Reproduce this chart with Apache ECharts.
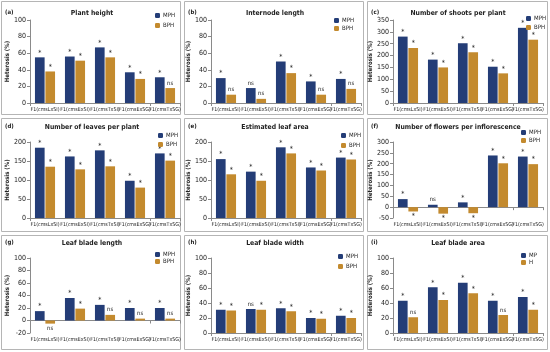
<!DOCTYPE html>
<html><head><meta charset="utf-8">
<script src="https://cdn.jsdelivr.net/npm/echarts@6/dist/echarts.min.js"></script>
<style>html,body{margin:0;padding:0;background:#fff}#c{width:550px;height:352px}</style>
</head><body><div id="c"></div>
<script>
const categories = ['F1(cmsLxSI)','F1(cmsExSI)','F1(cmsTxSI)','F1(cmsExSG)','F1(cmsTxSG)'];
const panelLetters = ['(a)','(b)','(c)','(d)','(e)','(f)','(g)','(h)','(i)'];
const panelTitles = ['Plant height','Internode length','Number of shoots per plant','Number of leaves per plant','Estimated leaf area','Number of flowers per inflorescence','Leaf blade length','Leaf blade width','Leaf blade area'];
const legendNames = [['MPH','BPH'],['MPH','BPH'],['MPH','BPH'],['MPH','BPH'],['MPH','BPH'],['MPH','BPH'],['MPH','BPH'],['MPH','BPH'],['MP','H']];
const yAxisName = 'Heterosis (%)';

const mphA = [55, 56, 67, 37, 31];   const bphA = [38, 51, 55, 29, 18];
const sigMphA = ['*','*','*','*','*']; const sigBphA = ['*','*','*','*','ns'];
const mphB = [30, 18, 50, 26, 29];   const bphB = [10, 5, 36, 10, 17];
const sigMphB = ['*','ns','*','*','*']; const sigBphB = ['ns','ns','*','ns','ns'];
const mphC = [280, 183, 252, 153, 317]; const bphC = [232, 150, 214, 125, 267];
const sigMphC = ['*','*','*','*','*']; const sigBphC = ['*','*','*','*','*'];
const mphD = [185, 162, 178, 98, 170]; const bphD = [135, 128, 136, 80, 151];
const sigMphD = ['*','*','*','*','*']; const sigBphD = ['*','*','*','*','*'];
const mphE = [155, 122, 186, 133, 159]; const bphE = [115, 98, 170, 125, 154];
const sigMphE = ['*','*','*','*','*']; const sigBphE = ['*','*','*','*','*'];
const mphF = [37, 11, 22, 238, 233]; const bphF = [-20, -30, -28, 202, 198];
const sigMphF = ['*','ns','*','*','*']; const sigBphF = ['*','*','*','*','*'];
const mphG = [15, 36, 25, 20, 20]; const bphG = [-5, 19, 9, 3, 3];
const sigMphG = ['*','*','*','*','*']; const sigBphG = ['ns','*','ns','ns','ns'];
const mphH = [31, 32, 33, 20, 23]; const bphH = [30, 31, 29, 19, 20];
const sigMphH = ['*','ns','*','*','*']; const sigBphH = ['*','*','*','*','*'];
const mphI = [43, 61, 67, 43, 48]; const bphI = [21, 44, 53, 24, 31];
const sigMphI = ['*','*','*','*','*']; const sigBphI = ['ns','*','*','ns','*'];

const yMin = [0, 0, 0, 0, 0, -50, -20, 0, 0];
const yMax = [100, 100, 350, 200, 200, 300, 100, 100, 100];
const yStep = [20, 20, 50, 50, 50, 50, 20, 20, 20];

const mphAll = [mphA, mphB, mphC, mphD, mphE, mphF, mphG, mphH, mphI];
const bphAll = [bphA, bphB, bphC, bphD, bphE, bphF, bphG, bphH, bphI];
const sigMphAll = [sigMphA, sigMphB, sigMphC, sigMphD, sigMphE, sigMphF, sigMphG, sigMphH, sigMphI];
const sigBphAll = [sigBphA, sigBphB, sigBphC, sigBphD, sigBphE, sigBphF, sigBphG, sigBphH, sigBphI];

// layout (not data)
const colX = [0, 183, 366], colW = [183, 183, 184];
const rowY = [0, 117, 234], rowH = [117, 117, 118];
const gridTopRel = [20, 25, 24], gridBotRel = [103, 101, 99];
const gridLeftRel = [30, 28, 27, 30, 28, 27, 30, 28, 27];
const titleYRel = [13, 10, 9];
const legendPos = [[155,12,10],[151,17,8],[160,15,9],[158,15,9],[158,15,10],[155,12,8],[155,17,7],[155,19,10],[155,18,7]];

const FONT = '"Liberation Sans Narrow","DejaVu Sans Condensed","Liberation Sans",sans-serif';
const C_MPH = '#243d77', C_BPH = '#c38a2e', C_TXT = '#222', C_AX = '#8a8a8a';

const grids = [], xAxes = [], yAxes = [], series = [], legends = [], graphics = [];
for (let p = 0; p < 9; p++) {
  const c = p % 3, r = Math.floor(p / 3);
  const px = colX[c], py = rowY[r];
  const gl = px + gridLeftRel[p], gt = py + gridTopRel[r], gb = py + gridBotRel[r];
  grids.push({left: gl, top: gt, width: 150, height: gb - gt, containLabel: false});
  xAxes.push({type:'category', gridIndex:p, data:categories, position:'bottom',
    axisLine:{show:false, onZero:false}, axisTick:{show:false},
    axisLabel:{fontFamily:FONT, fontSize:5.3, color:C_TXT, interval:0, margin:4, overflow:'none', width:60, hideOverlap:false}});
  xAxes.push({type:'category', gridIndex:p, data:categories, position:'bottom',
    axisLine:{show:true, onZero:true, lineStyle:{color:C_AX, width:1}},
    axisTick:{show:true, length:3, lineStyle:{color:C_AX}},
    axisLabel:{show:false}});
  yAxes.push({type:'value', gridIndex:p, min:yMin[p], max:yMax[p], interval:yStep[p],
    name:yAxisName, nameLocation:'middle', nameGap: gridLeftRel[p]-13, nameRotate:90,
    nameTextStyle:{fontFamily:FONT, fontSize:6, fontWeight:'bold', color:C_TXT},
    axisLine:{show:true, lineStyle:{color:C_AX}}, axisTick:{show:true, length:3, lineStyle:{color:C_AX}},
    splitLine:{show:false}, axisLabel:{fontFamily:FONT, fontSize:7, color:C_TXT, margin:4}});
  const names = legendNames[p];
  const mk = (vals, sig, color, name) => ({
    type:'bar', name: name + '_' + p, xAxisIndex: 2*p, yAxisIndex: p,
    barCategoryGap:'33%', barGap:'8%', itemStyle:{color}, animation:false,
    data: vals.map((v,i) => ({value:v, label:{show:true, position: v<0?'bottom':'top', distance: sig[i]==='*'?1:2,
      formatter: sig[i], fontFamily:FONT, fontSize: sig[i]==='*'?7:6, color:C_TXT}}))
  });
  series.push(mk(mphAll[p], sigMphAll[p], C_MPH, names[0]));
  series.push(mk(bphAll[p], sigBphAll[p], C_BPH, names[1]));
  const lp = legendPos[p];
  legends.push({orient:'vertical', left: px+lp[0], top: py+lp[1], itemWidth:5, itemHeight:5, itemGap: lp[2]-7,
    padding:0, data:[names[0]+'_'+p, names[1]+'_'+p], selectedMode:false,
    formatter: n => n.split('_')[0],
    textStyle:{fontFamily:FONT, fontSize:6, color:C_TXT, lineHeight:7, padding:[0,0,0,-2]}});
  graphics.push({type:'rect', silent:true, shape:{x:px+1.5, y:py+1.5, width:colW[c]-4, height:rowH[r]-4},
    style:{fill:'none', stroke:'#b5b5b5', lineWidth:1}});
  graphics.push({type:'text', silent:true, left: px+5, top: py+titleYRel[r]-4,
    style:{text:panelLetters[p], font:'bold 6px '+FONT, fill:C_TXT}});
  graphics.push({type:'text', silent:true, x: px+92, y: py+titleYRel[r],
    style:{text:panelTitles[p], font:'bold 6.8px '+FONT, fill:C_TXT, textAlign:'center', textVerticalAlign:'middle'}});
}
const chart = echarts.init(document.getElementById('c'), null, {renderer:'canvas'});
chart.setOption({animation:false, grid:grids, xAxis:xAxes, yAxis:yAxes, series:series, legend:legends, graphic:graphics});
</script></body></html>
